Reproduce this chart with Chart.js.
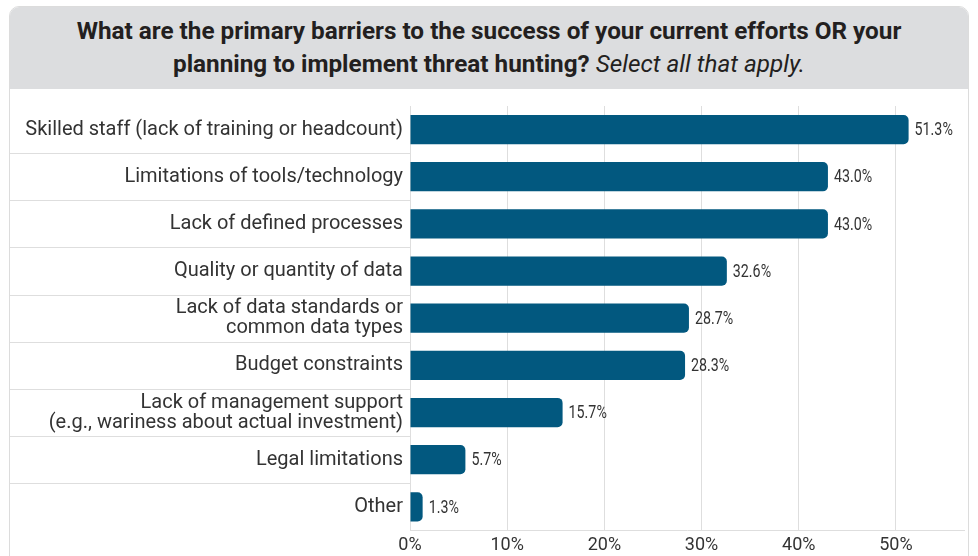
<!DOCTYPE html>
<html>
<head>
<meta charset="utf-8">
<script src="https://cdn.jsdelivr.net/npm/chart.js@4.4.1/dist/chart.umd.min.js"></script>
<style>
  html, body { margin: 0; padding: 0; background: #fff; }
  body { width: 978px; height: 556px; overflow: hidden; position: relative; }
  .card {
    position: absolute; left: 9px; top: 6px; width: 960px; height: 570px;
    border: 1px solid #dcdcdc; border-radius: 10px 10px 0 0; box-sizing: border-box;
    overflow: hidden;
  }
  .head {
    height: 82px; background: #dcdddf; color: #231f20;
    font-family: Roboto, sans-serif; font-weight: 700; font-size: 24.3px;
    line-height: 33px; text-align: center; padding-top: 7px; box-sizing: border-box;
  }
  .head i { font-weight: 400; }
  .wrap { position: absolute; left: 0; top: 82px; width: 958px; height: 471px; }
</style>
</head>
<body>
<div class="card">
  <div class="head">What are the primary barriers to the success of your current efforts OR your<br>planning to implement threat hunting? <i>Select all that apply.</i></div>
  <div class="wrap"><canvas id="chart"></canvas></div>
</div>
<script>
const categories = [
  'Skilled staff (lack of training or headcount)',
  'Limitations of tools/technology',
  'Lack of defined processes',
  'Quality or quantity of data',
  ['Lack of data standards or', 'common data types'],
  'Budget constraints',
  ['Lack of management support', '(e.g., wariness about actual investment)'],
  'Legal limitations',
  'Other'
];
const values = [51.3, 43.0, 43.0, 32.6, 28.7, 28.3, 15.7, 5.7, 1.3];
const xTicks = [0, 10, 20, 30, 40, 50];

const gridColor = '#dedede';
const textColor = '#333333';

// row separators in the label column, like a table
const rowLines = {
  id: 'rowLines',
  afterDraw(chart) {
    const y = chart.scales.y;
    const ctx = chart.ctx;
    ctx.save();
    ctx.strokeStyle = gridColor;
    ctx.lineWidth = 1;
    for (let i = 0; i < categories.length - 1; i++) {
      const py = Math.round((y.getPixelForValue(i) + y.getPixelForValue(i + 1)) / 2) + 0.5;
      ctx.beginPath();
      ctx.moveTo(0, py);
      ctx.lineTo(chart.chartArea.left, py);
      ctx.stroke();
    }
    ctx.restore();
  }
};

// value labels at the end of each bar, condensed
const valueLabels = {
  id: 'valueLabels',
  afterDatasetsDraw(chart) {
    const ctx = chart.ctx;
    const meta = chart.getDatasetMeta(0);
    ctx.save();
    ctx.fillStyle = textColor;
    ctx.font = '19px Roboto, sans-serif';
    ctx.textBaseline = 'middle';
    meta.data.forEach((bar, i) => {
      const txt = values[i].toFixed(1) + '%';
      ctx.save();
      ctx.translate(bar.x + 6, bar.y + 1);
      ctx.scale(0.75, 1);
      ctx.fillText(txt, 0, 0);
      ctx.restore();
    });
    ctx.restore();
  }
};

new Chart(document.getElementById('chart'), {
  type: 'bar',
  data: {
    labels: categories,
    datasets: [{
      data: values,
      backgroundColor: '#02587f',
      borderRadius: 5,
      barPercentage: 0.62,
      categoryPercentage: 1
    }]
  },
  options: {
    indexAxis: 'y',
    responsive: true,
    maintainAspectRatio: false,
    animation: false,
    layout: { padding: { top: 13, right: 4, bottom: 0, left: 0 } },
    plugins: { legend: { display: false }, tooltip: { enabled: false } },
    scales: {
      x: {
        min: 0,
        max: 57,
        afterBuildTicks: scale => { scale.ticks = xTicks.map(v => ({ value: v })); },
        grid: { color: gridColor, drawTicks: false },
        border: { color: gridColor },
        ticks: {
          padding: 4,
          color: textColor,
          font: { family: 'Roboto, sans-serif', size: 18 },
          callback: v => v + '%'
        }
      },
      y: {
        afterFit: scale => { scale.width = 400; },
        grid: { display: false, drawTicks: false },
        border: { display: false },
        ticks: {
          padding: 7,
          color: textColor,
          font: { family: 'Roboto, sans-serif', size: 20, lineHeight: 1.0 }
        }
      }
    }
  },
  plugins: [rowLines, valueLabels]
});
</script>
</body>
</html>
